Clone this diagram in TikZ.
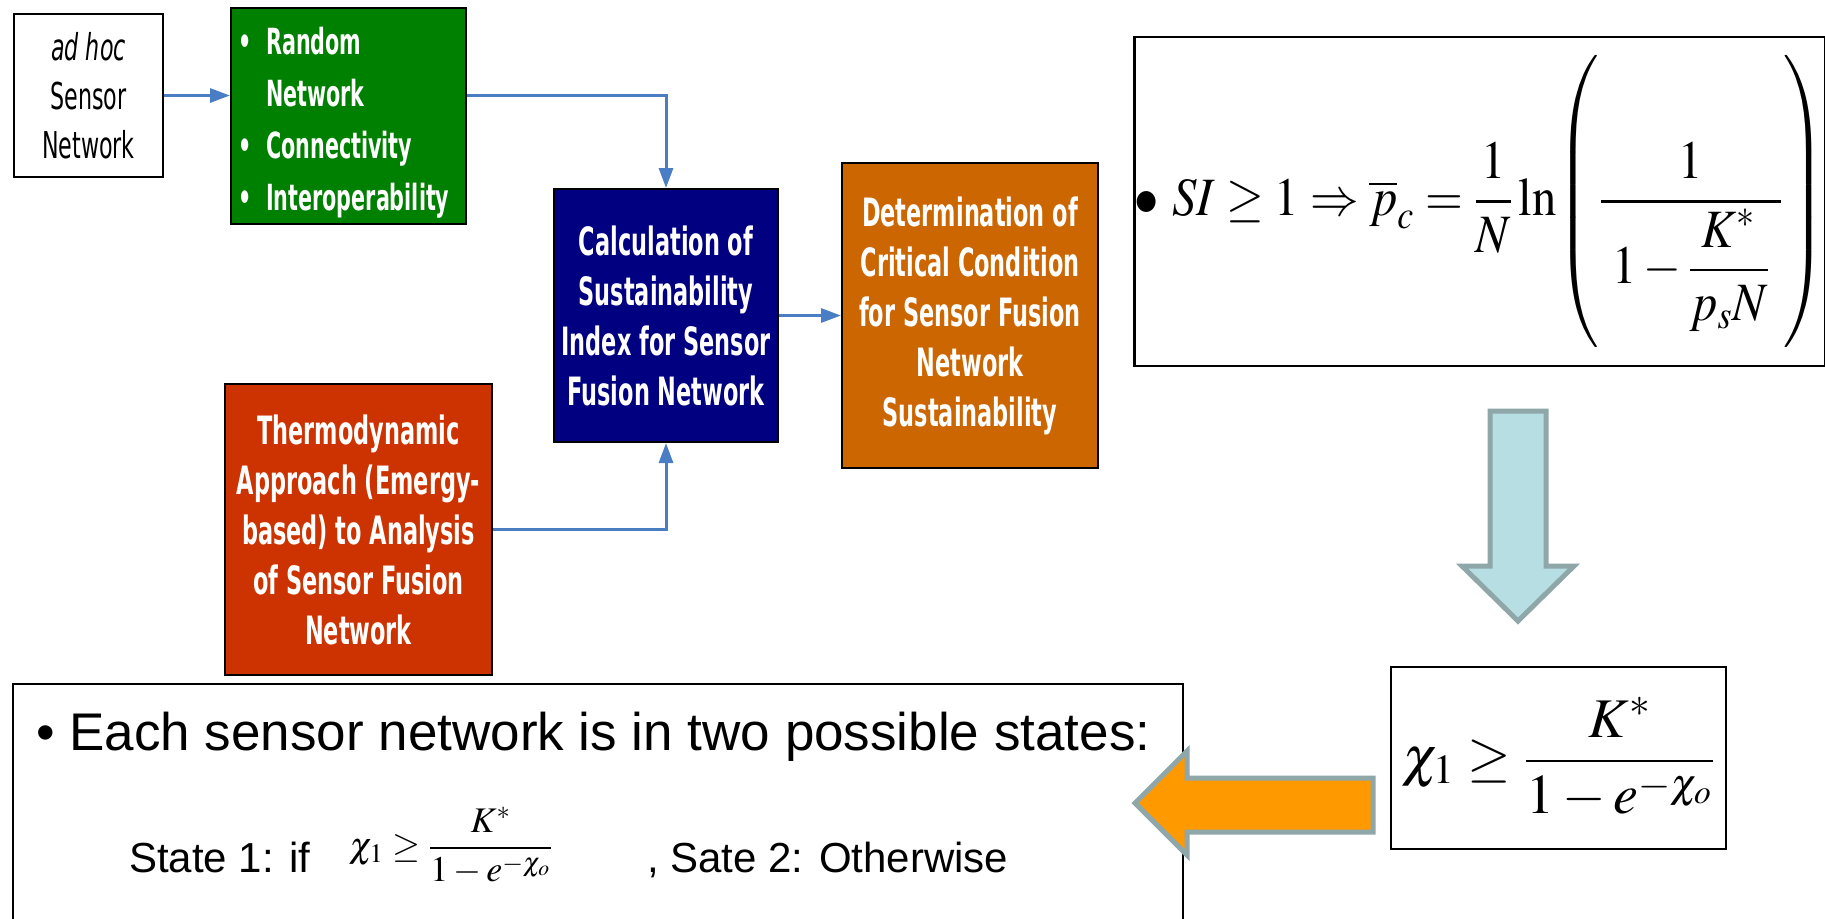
\documentclass[tikz,border=0pt]{standalone}
\usepackage{amsmath}
\usepackage{mathptmx}
\usepackage{graphicx}
\usepackage[no-math]{fontspec}
\setmainfont{Liberation Sans}
\newfontfamily\boxfont[FakeStretch=0.575]{DejaVu Sans}
\newfontfamily\plainboxfont[FakeStretch=0.6]{DejaVu Sans}
\usetikzlibrary{arrows.meta}

\definecolor{rndgreen}{HTML}{008000}
\definecolor{calcblue}{HTML}{000080}
\definecolor{critorange}{HTML}{CC6600}
\definecolor{thermored}{HTML}{CC3300}
\definecolor{flowblue}{HTML}{4A7EC4}
\definecolor{arrowcyan}{HTML}{B7DFE3}
\definecolor{arrowedge}{HTML}{8FA7A9}
\definecolor{arroworange}{HTML}{FF9900}

\tikzset{
  box/.style={draw=black, line width=1pt, inner sep=0pt, align=center, text=white},
  boldbox/.style={box, font=\boxfont\bfseries\fontsize{19.5}{25}\selectfont},
  flow/.style={draw=flowblue, line width=1.5pt, -{Triangle[length=10pt,width=7pt]}},
  formbox/.style={draw=black, line width=1.3pt, inner sep=0pt},
  blockarrow/.style={line width=2.5pt, draw=arrowedge, line join=miter}
}

\begin{document}
\begin{tikzpicture}[x=0.5pt, y=-0.5pt]
    \useasboundingbox (0,0) rectangle (1825,918);

    \node[box, fill=white, text=black, font=\plainboxfont\fontsize{18.5}{24.5}\selectfont,
          minimum width=74.5pt, minimum height=81.5pt] (adhoc) at (88.5,95.5) {\textit{ad hoc}\\Sensor\\Network};
    \node[box, fill=rndgreen, align=left, font=\boxfont\bfseries\fontsize{18}{26}\selectfont,
          minimum width=117.5pt, minimum height=108pt] (random) at (348.5,116)
          {\rule{0pt}{20.5pt}\textbullet\ \ Random\\\hphantom{\textbullet\ \ }Network\\\textbullet\ \ Connectivity\\\textbullet\ \ Interoperability\rule{4.5pt}{0pt}};
    \node[boldbox, fill=calcblue, minimum width=112pt, minimum height=126.5pt] (calc) at (666,315.5)
          {Calculation of\\Sustainability\\Index for Sensor\\Fusion Network};
    \node[boldbox, fill=critorange, minimum width=128pt, minimum height=152.5pt] (crit) at (970,315.5)
          {Determination of\\Critical Condition\\for Sensor Fusion\\Network\\Sustainability};
    \node[boldbox, fill=thermored, minimum width=133.5pt, minimum height=145.5pt] (thermo) at (358.5,529.5)
          {Thermodynamic\\Approach (Emergy-\\based) to Analysis\\of Sensor Fusion\\Network};

    \draw[flow] (adhoc.east) -- (adhoc.east -| random.west);
    \draw[flow] (adhoc.east -| random.east) -| (calc.north);
    \draw[flow] (thermo.east) -| (calc.south);
    \draw[flow] (calc.east) -- (calc.east -| crit.west);

    % formulas on the right
    \node[formbox, minimum width=343pt, minimum height=164.5pt, font=\fontsize{27}{30}\selectfont] (si) at (1480,201.5)
          {\scalebox{0.9}[1]{$\bullet\ SI \ge 1 \Rightarrow \overline{p}_{c} = \dfrac{1}{N}\ln\!\left(\vcenter{\hbox{\rule{0pt}{140pt}}}\dfrac{1}{\;1-\dfrac{K^{*}}{p_{s}N}\;}\right)$}};
    \node[formbox, minimum width=167.5pt, minimum height=91pt, font=\fontsize{28}{32}\selectfont] (chi) at (1558.5,758)
          {$\chi_{1} \ge \dfrac{K^{*}}{1-e^{-\chi_{o}}}$};

    \fill[blockarrow, fill=arrowcyan] (1490,411) -- (1546,411) -- (1546,566) -- (1574,566) -- (1518,621)
          -- (1462,566) -- (1490,566) -- cycle;

    % states box, cut by the lower edge
    \node[formbox, line width=1pt, anchor=north west, minimum width=585pt, minimum height=140pt] (states) at (12,683) {};
    \node[anchor=base west, font=\fontsize{26.5}{30}\selectfont] (eachtxt) at (29,750)
          {\textbullet\ Each sensor network is in two possible states:};
    \node[anchor=base west, font=\fontsize{21}{24}\selectfont] (state1) at (122,872) {State 1: if};
    \node[anchor=west, font=\fontsize{18}{20}\selectfont] (statefrac) at (342,846)
          {$\chi_{1} \ge \dfrac{K^{*}}{1-e^{-\chi_{o}}}$};
    \node[anchor=base west, font=\fontsize{21}{24}\selectfont] (state2) at (640,872) {, Sate 2: Otherwise};

    \fill[blockarrow, fill=arroworange] (1373,778) -- (1373,832) -- (1187,832) -- (1187,855) -- (1135,803)
          -- (1187,751) -- (1187,778) -- cycle;

\end{tikzpicture}
\end{document}
